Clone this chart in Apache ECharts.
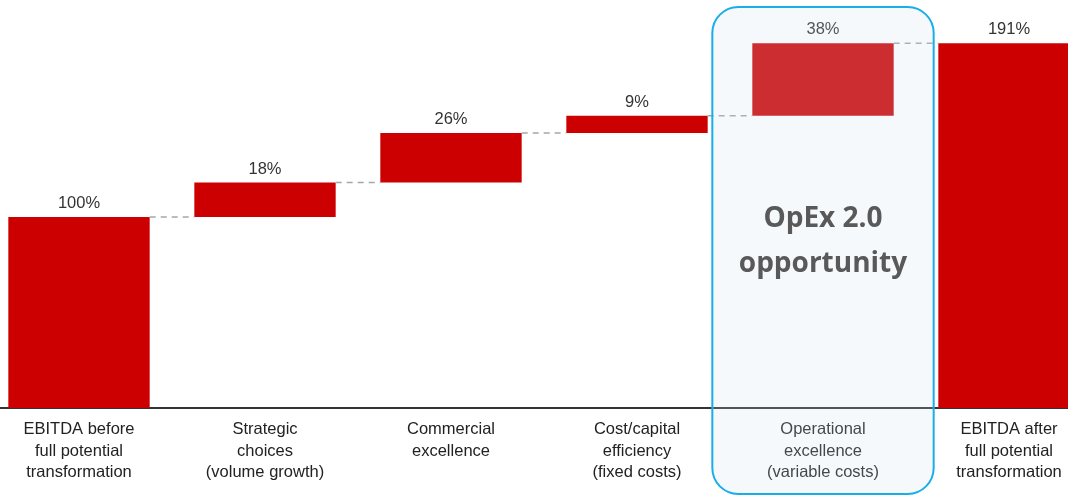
<!DOCTYPE html>
<html>
<head>
<meta charset="utf-8">
<script src="https://cdn.jsdelivr.net/npm/echarts@6/dist/echarts.min.js"></script>
<style>
html,body{margin:0;padding:0;background:#fff;overflow:hidden;width:1068px;height:496px;position:relative;}
#chart{position:absolute;left:-14px;top:0;width:1116px;height:496px;}
</style>
</head>
<body>
<div id="chart"></div>
<script>
// ---- data ----
const categories = [
  'EBITDA before\nfull potential\ntransformation',
  'Strategic\nchoices\n(volume growth)',
  'Commercial\nexcellence',
  'Cost/capital\nefficiency\n(fixed costs)',
  'Operational\nexcellence\n(variable costs)',
  'EBITDA after\nfull potential\ntransformation'
];
const values = [100, 18, 26, 9, 38, 191];
const isTotal = [true, false, false, false, false, true];
const valueLabels = ['100%', '18%', '26%', '9%', '38%', '191%'];
const highlightIndex = 4;
const highlightText = 'OpEx 2.0\nopportunity';

// ---- derived ----
const base = [];
const tops = [];
let run = 0;
values.forEach((v, i) => {
  if (isTotal[i]) { base.push(0); run = v; tops.push(v); }
  else { base.push(run); run += v; tops.push(run); }
});
const connectors = [];
for (let i = 0; i < values.length - 1; i++) connectors.push([i, tops[i]]);

const BAR_FRAC = 0.76;

const chart = echarts.init(document.getElementById('chart'));
chart.setOption({
  backgroundColor: '#ffffff',
  animation: false,
  grid: { left: 0, right: 0, top: 26, bottom: 88, containLabel: false },
  xAxis: {
    type: 'category',
    data: categories,
    axisLine: { lineStyle: { color: '#333333', width: 2 } },
    axisTick: { show: false },
    axisLabel: {
      interval: 0,
      margin: 11,
      color: '#222222',
      fontFamily: 'Liberation Sans, Arial, sans-serif',
      fontSize: 16.5,
      lineHeight: 21.5,
      verticalAlign: 'top'
    }
  },
  yAxis: { type: 'value', min: 0, max: 200, show: false, splitLine: { show: false } },
  series: [
    {
      type: 'bar', stack: 'w', data: base, barWidth: (BAR_FRAC * 100) + '%',
      itemStyle: { color: 'rgba(0,0,0,0)' }, silent: true
    },
    {
      type: 'bar', stack: 'w', data: values, barWidth: (BAR_FRAC * 100) + '%',
      itemStyle: { color: '#CC0000' },
      label: {
        show: true, position: 'top', distance: 5,
        formatter: p => valueLabels[p.dataIndex],
        color: '#333333', fontSize: 16.5,
        fontFamily: 'Liberation Sans, Arial, sans-serif'
      }
    },
    {
      type: 'custom', data: connectors, z: 3, silent: true,
      renderItem: (params, api) => {
        const i = api.value(0), lvl = api.value(1);
        const p = api.coord([i, lvl]);
        const band = api.size([1, 0])[0];
        const half = band * BAR_FRAC / 2;
        return {
          type: 'line',
          shape: { x1: p[0] + half, y1: p[1], x2: p[0] + band - half, y2: p[1] },
          style: { stroke: '#A6A6A6', lineWidth: 1.5, lineDash: [6, 5] }
        };
      }
    },
    {
      type: 'custom', data: [[highlightIndex]], z: 10, silent: true, clip: false,
      renderItem: (params, api) => {
        const cs = params.coordSys;
        const c = api.coord([api.value(0), 0]);
        const band = api.size([1, 0])[0];
        const w = band * 1.19;
        const x = c[0] - w / 2;
        const y = cs.y - 19;
        const h = cs.height + 19 + 86;
        const midY = cs.y + cs.height * 0.565;
        return {
          type: 'group',
          children: [
            {
              type: 'rect',
              shape: { x: x, y: y, width: w, height: h, r: 26 },
              style: { fill: 'rgba(205,225,242,0.2)', stroke: '#1AAEE8', lineWidth: 2 }
            },
            {
              type: 'text',
              style: {
                x: c[0], y: midY, text: highlightText,
                align: 'center', verticalAlign: 'middle',
                fill: '#595959', font: 'bold 28px "Open Sans", sans-serif',
                lineHeight: 45
              }
            }
          ]
        };
      }
    }
  ]
});
</script>
</body>
</html>
